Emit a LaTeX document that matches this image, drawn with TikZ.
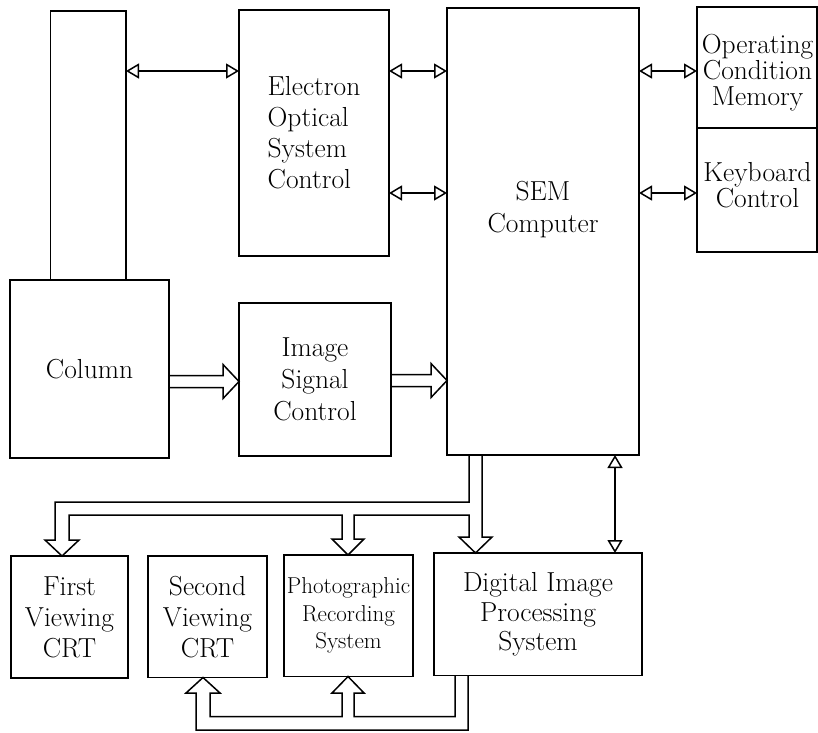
\documentclass[tikz,border=0pt]{standalone}
\usetikzlibrary{arrows.meta}
\begin{document}
\begin{tikzpicture}[x=1pt,y=-1pt,
  box/.style={draw, line width=1.5pt, inner sep=0pt, outer sep=0pt, anchor=north west, align=center, font=\fontsize{27.5}{31}\selectfont},
  txt/.style={inner sep=0pt, align=center},
  bus/.style={draw, line width=1.5pt, line join=miter},
  >={Triangle[open,length=13pt,width=15pt]},
  dbl/.style={<->, line width=1.5pt}]
\useasboundingbox (0,0) rectangle (818,732);
% boxes
\node[box, minimum width=75.3pt, minimum height=269pt] (tube) at (50.7,11) {};
\node[box, minimum width=159pt, minimum height=178pt] (column) at (10,280) {Column};
\node[box, minimum width=150pt, minimum height=246pt, align=left] (eosc) at (239,10) {Electron\\Optical\\System\\Control};
\node[box, minimum width=152pt, minimum height=153pt, font=\fontsize{27.5}{32}\selectfont] (isc) at (239,303) {Image\\Signal\\Control};
\node[box, minimum width=192pt, minimum height=447pt] (sem) at (447,8) {};
\node[txt, font=\fontsize{27.5}{32}\selectfont] (semtext) at (543,210) {SEM\\Computer};
\node[box, minimum width=120pt, minimum height=121pt] (ocm) at (697,7) {};
\node[txt, font=\fontsize{27.5}{26}\selectfont] (ocmtext) at (757.5,73) {Operating\\Condition\\Memory};
\node[box, minimum width=120pt, minimum height=124pt] (kbd) at (697,128) {};
\node[txt, font=\fontsize{27.5}{26}\selectfont] (kbdtext) at (757.5,185) {Keyboard\\Control};
\node[box, minimum width=117pt, minimum height=122pt] (first) at (11,556) {First\\Viewing\\CRT};
\node[box, minimum width=119pt, minimum height=121.5pt] (second) at (148,556) {Second\\Viewing\\CRT};
\node[box, minimum width=129pt, minimum height=121.5pt, font=\fontsize{23}{27.5}\selectfont] (photo) at (284,555) {Photographic\\Recording\\System};
\node[box, minimum width=208pt, minimum height=122.5pt, font=\fontsize{27.5}{29.5}\selectfont] (dips) at (434,553) {Digital Image\\Processing\\System};
% thin double arrows
\coordinate (r1) at (0,71);
\coordinate (r2) at (0,193);
\coordinate (c1) at (615,0);
\draw[dbl] (tube.east |- r1) -- (eosc.west |- r1);
\draw[dbl] (eosc.east |- r1) -- (sem.west |- r1);
\draw[dbl] (eosc.east |- r2) -- (sem.west |- r2);
\draw[dbl] (sem.east |- r1) -- (ocm.west |- r1);
\draw[dbl] (sem.east |- r2) -- (kbd.west |- r2);
\draw[dbl] (sem.south -| c1) -- (dips.north -| c1);
% thick hollow arrows
\draw[bus] (column.east |- 0,375.5) -- (223,375.5) -- (223,364.5) -- (isc.west |- 0,381.5) -- (223,398.5) -- (223,387.5) -- (column.east |- 0,387.5);
\draw[bus] (isc.east |- 0,374.5) -- (431,374.5) -- (431,363.5) -- (sem.west |- 0,380.5) -- (431,397.5) -- (431,386.5) -- (isc.east |- 0,386.5);
% upper bus from SEM
\draw[bus] (sem.south -| 469,0) -- (469,502) -- (55,502) -- (55,540) -- (45,540) -- (first.north -| 62,0) -- (79,540) -- (69,540) -- (69,515) -- (342,515) -- (342,539) -- (332,539) -- (photo.north -| 348,0) -- (364,539) -- (354,539) -- (354,515) -- (469,515) -- (469,537) -- (459,537) -- (dips.north -| 475.5,0) -- (492,537) -- (482,537) -- (sem.south -| 482,0);
% lower bus from DIPS
\draw[bus] (dips.south -| 468,0) -- (468,730) -- (196,730) -- (196,693) -- (186,693) -- (second.south -| 203,0) -- (220,693) -- (210,693) -- (210,716.5) -- (342,716.5) -- (342,693) -- (332,693) -- (photo.south -| 348,0) -- (364,693) -- (354,693) -- (354,716.5) -- (455,716.5) -- (dips.south -| 455,0);
\end{tikzpicture}
\end{document}
